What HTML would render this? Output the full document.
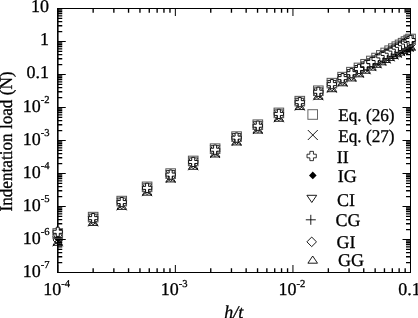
<!DOCTYPE html>
<html><head><meta charset="utf-8"><style>
html,body{margin:0;padding:0;background:#fff;overflow:hidden;}
svg{display:block;will-change:transform;}
.t{text-rendering:geometricPrecision;font-family:"Liberation Serif",serif;font-size:18px;fill:#000;stroke:#000;stroke-width:0.3px;}
</style></head><body>
<svg width="418" height="318" viewBox="0 0 418 318">
<rect x="57.75" y="8.5" width="352.75" height="264.0" fill="none" stroke="#000" stroke-width="1"/>
<line x1="57.75" y1="8.0" x2="57.75" y2="273.0" stroke="#000" stroke-width="1.4"/>
<path d="M57.75 272.50h8.0M410.5 272.50h-8.0M57.75 239.50h8.0M410.5 239.50h-8.0M57.75 206.50h8.0M410.5 206.50h-8.0M57.75 173.50h8.0M410.5 173.50h-8.0M57.75 140.50h8.0M410.5 140.50h-8.0M57.75 107.50h8.0M410.5 107.50h-8.0M57.75 74.50h8.0M410.5 74.50h-8.0M57.75 41.50h8.0M410.5 41.50h-8.0M57.75 272.5v-7.5M57.75 8.5v7.5M175.35 272.5v-7.5M175.35 8.5v7.5M292.95 272.5v-7.5M292.95 8.5v7.5" stroke="#000" stroke-width="1" fill="none"/>
<path d="M57.75 262.57h4.5M410.5 262.57h-4.5M57.75 256.75h4.5M410.5 256.75h-4.5M57.75 252.63h4.5M410.5 252.63h-4.5M57.75 249.43h4.5M410.5 249.43h-4.5M57.75 246.82h4.5M410.5 246.82h-4.5M57.75 244.61h4.5M410.5 244.61h-4.5M57.75 242.70h4.5M410.5 242.70h-4.5M57.75 241.01h4.5M410.5 241.01h-4.5M57.75 229.57h4.5M410.5 229.57h-4.5M57.75 223.75h4.5M410.5 223.75h-4.5M57.75 219.63h4.5M410.5 219.63h-4.5M57.75 216.43h4.5M410.5 216.43h-4.5M57.75 213.82h4.5M410.5 213.82h-4.5M57.75 211.61h4.5M410.5 211.61h-4.5M57.75 209.70h4.5M410.5 209.70h-4.5M57.75 208.01h4.5M410.5 208.01h-4.5M57.75 196.57h4.5M410.5 196.57h-4.5M57.75 190.75h4.5M410.5 190.75h-4.5M57.75 186.63h4.5M410.5 186.63h-4.5M57.75 183.43h4.5M410.5 183.43h-4.5M57.75 180.82h4.5M410.5 180.82h-4.5M57.75 178.61h4.5M410.5 178.61h-4.5M57.75 176.70h4.5M410.5 176.70h-4.5M57.75 175.01h4.5M410.5 175.01h-4.5M57.75 163.57h4.5M410.5 163.57h-4.5M57.75 157.75h4.5M410.5 157.75h-4.5M57.75 153.63h4.5M410.5 153.63h-4.5M57.75 150.43h4.5M410.5 150.43h-4.5M57.75 147.82h4.5M410.5 147.82h-4.5M57.75 145.61h4.5M410.5 145.61h-4.5M57.75 143.70h4.5M410.5 143.70h-4.5M57.75 142.01h4.5M410.5 142.01h-4.5M57.75 130.57h4.5M410.5 130.57h-4.5M57.75 124.75h4.5M410.5 124.75h-4.5M57.75 120.63h4.5M410.5 120.63h-4.5M57.75 117.43h4.5M410.5 117.43h-4.5M57.75 114.82h4.5M410.5 114.82h-4.5M57.75 112.61h4.5M410.5 112.61h-4.5M57.75 110.70h4.5M410.5 110.70h-4.5M57.75 109.01h4.5M410.5 109.01h-4.5M57.75 97.57h4.5M410.5 97.57h-4.5M57.75 91.75h4.5M410.5 91.75h-4.5M57.75 87.63h4.5M410.5 87.63h-4.5M57.75 84.43h4.5M410.5 84.43h-4.5M57.75 81.82h4.5M410.5 81.82h-4.5M57.75 79.61h4.5M410.5 79.61h-4.5M57.75 77.70h4.5M410.5 77.70h-4.5M57.75 76.01h4.5M410.5 76.01h-4.5M57.75 64.57h4.5M410.5 64.57h-4.5M57.75 58.75h4.5M410.5 58.75h-4.5M57.75 54.63h4.5M410.5 54.63h-4.5M57.75 51.43h4.5M410.5 51.43h-4.5M57.75 48.82h4.5M410.5 48.82h-4.5M57.75 46.61h4.5M410.5 46.61h-4.5M57.75 44.70h4.5M410.5 44.70h-4.5M57.75 43.01h4.5M410.5 43.01h-4.5M57.75 31.57h4.5M410.5 31.57h-4.5M57.75 25.75h4.5M410.5 25.75h-4.5M57.75 21.63h4.5M410.5 21.63h-4.5M57.75 18.43h4.5M410.5 18.43h-4.5M57.75 15.82h4.5M410.5 15.82h-4.5M57.75 13.61h4.5M410.5 13.61h-4.5M57.75 11.70h4.5M410.5 11.70h-4.5M57.75 10.01h4.5M410.5 10.01h-4.5M93.15 272.5v-4.2M93.15 8.5v4.2M113.86 272.5v-4.2M113.86 8.5v4.2M128.55 272.5v-4.2M128.55 8.5v4.2M139.95 272.5v-4.2M139.95 8.5v4.2M149.26 272.5v-4.2M149.26 8.5v4.2M157.13 272.5v-4.2M157.13 8.5v4.2M163.95 272.5v-4.2M163.95 8.5v4.2M169.97 272.5v-4.2M169.97 8.5v4.2M210.75 272.5v-4.2M210.75 8.5v4.2M231.46 272.5v-4.2M231.46 8.5v4.2M246.15 272.5v-4.2M246.15 8.5v4.2M257.55 272.5v-4.2M257.55 8.5v4.2M266.86 272.5v-4.2M266.86 8.5v4.2M274.73 272.5v-4.2M274.73 8.5v4.2M281.55 272.5v-4.2M281.55 8.5v4.2M287.57 272.5v-4.2M287.57 8.5v4.2M328.35 272.5v-4.2M328.35 8.5v4.2M349.06 272.5v-4.2M349.06 8.5v4.2M363.75 272.5v-4.2M363.75 8.5v4.2M375.15 272.5v-4.2M375.15 8.5v4.2M384.46 272.5v-4.2M384.46 8.5v4.2M392.33 272.5v-4.2M392.33 8.5v4.2M399.15 272.5v-4.2M399.15 8.5v4.2M405.17 272.5v-4.2M405.17 8.5v4.2" stroke="#000" stroke-width="1.35" fill="none"/>
<text x="49" y="11.90" text-anchor="end" class="t">10</text>
<text x="49" y="44.90" text-anchor="end" class="t">1</text>
<text x="49" y="77.90" text-anchor="end" class="t">0.1</text>
<text x="49.6" y="111.80" text-anchor="end" class="t">10<tspan dy="-8.7" font-size="10.6">-2</tspan></text>
<text x="49.6" y="144.80" text-anchor="end" class="t">10<tspan dy="-8.7" font-size="10.6">-3</tspan></text>
<text x="49.6" y="177.80" text-anchor="end" class="t">10<tspan dy="-8.7" font-size="10.6">-4</tspan></text>
<text x="49.6" y="210.80" text-anchor="end" class="t">10<tspan dy="-8.7" font-size="10.6">-5</tspan></text>
<text x="49.6" y="243.80" text-anchor="end" class="t">10<tspan dy="-8.7" font-size="10.6">-6</tspan></text>
<text x="49.6" y="276.80" text-anchor="end" class="t">10<tspan dy="-8.7" font-size="10.6">-7</tspan></text>
<text x="56.65" y="295.2" text-anchor="middle" class="t">10<tspan dy="-8.2" font-size="10.6">-4</tspan></text>
<text x="174.25" y="295.2" text-anchor="middle" class="t">10<tspan dy="-8.2" font-size="10.6">-3</tspan></text>
<text x="291.85" y="295.2" text-anchor="middle" class="t">10<tspan dy="-8.2" font-size="10.6">-2</tspan></text>
<text x="409.45" y="294.9" text-anchor="middle" class="t">0.1</text>
<text transform="translate(12.2,211.5) rotate(-90)" class="t" textLength="140" lengthAdjust="spacingAndGlyphs">Indentation load (N)</text>
<text x="224.2" y="318" class="t" font-style="italic">h/t</text>
<g><path d="M52.75 236.30L62.75 246.30M62.75 236.30L52.75 246.30" stroke="#000" stroke-width="0.9" fill="none"/><path d="M57.75 234.70L61.55 238.50L57.75 242.30L53.95 238.50Z" fill="#000"/><path d="M52.95 234.00H62.55L57.75 241.20Z" fill="none" stroke="#000" stroke-width="0.9"/><path d="M52.75 238.00H62.75M57.75 233.00V243.00" stroke="#000" stroke-width="0.9" fill="none"/><path d="M57.75 235.20L62.55 240.00L57.75 244.80L52.95 240.00Z" fill="none" stroke="#000" stroke-width="0.9"/><path d="M52.95 245.30H62.55L57.75 238.10Z" fill="none" stroke="#000" stroke-width="0.9"/><path d="M88.15 216.43L98.15 226.43M98.15 216.43L88.15 226.43" stroke="#000" stroke-width="0.9" fill="none"/><path d="M93.15 214.83L96.95 218.63L93.15 222.43L89.35 218.63Z" fill="#000"/><path d="M88.35 214.13H97.95L93.15 221.33Z" fill="none" stroke="#000" stroke-width="0.9"/><path d="M88.15 218.13H98.15M93.15 213.13V223.13" stroke="#000" stroke-width="0.9" fill="none"/><path d="M93.15 215.33L97.95 220.13L93.15 224.93L88.35 220.13Z" fill="none" stroke="#000" stroke-width="0.9"/><path d="M88.35 225.43H97.95L93.15 218.23Z" fill="none" stroke="#000" stroke-width="0.9"/><path d="M116.73 200.39L126.73 210.39M126.73 200.39L116.73 210.39" stroke="#000" stroke-width="0.9" fill="none"/><path d="M121.73 198.79L125.53 202.59L121.73 206.39L117.93 202.59Z" fill="#000"/><path d="M116.93 198.09H126.53L121.73 205.29Z" fill="none" stroke="#000" stroke-width="0.9"/><path d="M116.73 202.09H126.73M121.73 197.09V207.09" stroke="#000" stroke-width="0.9" fill="none"/><path d="M121.73 199.29L126.53 204.09L121.73 208.89L116.93 204.09Z" fill="none" stroke="#000" stroke-width="0.9"/><path d="M116.93 209.39H126.53L121.73 202.19Z" fill="none" stroke="#000" stroke-width="0.9"/><path d="M142.09 186.16L152.09 196.16M152.09 186.16L142.09 196.16" stroke="#000" stroke-width="0.9" fill="none"/><path d="M147.09 184.56L150.89 188.36L147.09 192.16L143.29 188.36Z" fill="#000"/><path d="M142.29 183.86H151.89L147.09 191.06Z" fill="none" stroke="#000" stroke-width="0.9"/><path d="M142.09 187.86H152.09M147.09 182.86V192.86" stroke="#000" stroke-width="0.9" fill="none"/><path d="M147.09 185.06L151.89 189.86L147.09 194.66L142.29 189.86Z" fill="none" stroke="#000" stroke-width="0.9"/><path d="M142.29 195.16H151.89L147.09 187.96Z" fill="none" stroke="#000" stroke-width="0.9"/><path d="M165.67 172.93L175.67 182.93M175.67 172.93L165.67 182.93" stroke="#000" stroke-width="0.9" fill="none"/><path d="M170.67 171.33L174.47 175.13L170.67 178.93L166.87 175.13Z" fill="#000"/><path d="M165.87 170.63H175.47L170.67 177.83Z" fill="none" stroke="#000" stroke-width="0.9"/><path d="M165.67 174.63H175.67M170.67 169.63V179.63" stroke="#000" stroke-width="0.9" fill="none"/><path d="M170.67 171.83L175.47 176.63L170.67 181.43L165.87 176.63Z" fill="none" stroke="#000" stroke-width="0.9"/><path d="M165.87 181.93H175.47L170.67 174.73Z" fill="none" stroke="#000" stroke-width="0.9"/><path d="M188.21 160.28L198.21 170.28M198.21 160.28L188.21 170.28" stroke="#000" stroke-width="0.9" fill="none"/><path d="M193.21 158.68L197.01 162.48L193.21 166.28L189.41 162.48Z" fill="#000"/><path d="M188.41 157.98H198.01L193.21 165.18Z" fill="none" stroke="#000" stroke-width="0.9"/><path d="M188.21 161.98H198.21M193.21 156.98V166.98" stroke="#000" stroke-width="0.9" fill="none"/><path d="M193.21 159.18L198.01 163.98L193.21 168.78L188.41 163.98Z" fill="none" stroke="#000" stroke-width="0.9"/><path d="M188.41 169.28H198.01L193.21 162.08Z" fill="none" stroke="#000" stroke-width="0.9"/><path d="M210.11 147.99L220.11 157.99M220.11 147.99L210.11 157.99" stroke="#000" stroke-width="0.9" fill="none"/><path d="M215.11 146.39L218.91 150.19L215.11 153.99L211.31 150.19Z" fill="#000"/><path d="M210.31 145.69H219.91L215.11 152.89Z" fill="none" stroke="#000" stroke-width="0.9"/><path d="M210.11 149.69H220.11M215.11 144.69V154.69" stroke="#000" stroke-width="0.9" fill="none"/><path d="M215.11 146.89L219.91 151.69L215.11 156.49L210.31 151.69Z" fill="none" stroke="#000" stroke-width="0.9"/><path d="M210.31 156.99H219.91L215.11 149.79Z" fill="none" stroke="#000" stroke-width="0.9"/><path d="M231.59 135.94L241.59 145.94M241.59 135.94L231.59 145.94" stroke="#000" stroke-width="0.9" fill="none"/><path d="M236.59 134.34L240.39 138.14L236.59 141.94L232.79 138.14Z" fill="#000"/><path d="M231.79 133.64H241.39L236.59 140.84Z" fill="none" stroke="#000" stroke-width="0.9"/><path d="M231.59 137.63H241.59M236.59 132.63V142.63" stroke="#000" stroke-width="0.9" fill="none"/><path d="M236.59 134.84L241.39 139.64L236.59 144.44L231.79 139.64Z" fill="none" stroke="#000" stroke-width="0.9"/><path d="M231.79 144.94H241.39L236.59 137.74Z" fill="none" stroke="#000" stroke-width="0.9"/><path d="M252.81 124.05L262.81 134.05M262.81 124.05L252.81 134.05" stroke="#000" stroke-width="0.9" fill="none"/><path d="M257.81 122.44L261.61 126.24L257.81 130.04L254.01 126.24Z" fill="#000"/><path d="M253.01 121.75H262.61L257.81 128.95Z" fill="none" stroke="#000" stroke-width="0.9"/><path d="M252.81 125.73H262.81M257.81 120.73V130.73" stroke="#000" stroke-width="0.9" fill="none"/><path d="M257.81 122.95L262.61 127.75L257.81 132.55L253.01 127.75Z" fill="none" stroke="#000" stroke-width="0.9"/><path d="M253.01 133.05H262.61L257.81 125.85Z" fill="none" stroke="#000" stroke-width="0.9"/><path d="M273.86 112.26L283.86 122.26M283.86 112.26L273.86 122.26" stroke="#000" stroke-width="0.9" fill="none"/><path d="M278.86 110.64L282.66 114.44L278.86 118.24L275.06 114.44Z" fill="#000"/><path d="M274.06 109.96H283.66L278.86 117.16Z" fill="none" stroke="#000" stroke-width="0.9"/><path d="M273.86 113.93H283.86M278.86 108.93V118.93" stroke="#000" stroke-width="0.9" fill="none"/><path d="M278.86 111.16L283.66 115.96L278.86 120.76L274.06 115.96Z" fill="none" stroke="#000" stroke-width="0.9"/><path d="M274.06 121.26H283.66L278.86 114.06Z" fill="none" stroke="#000" stroke-width="0.9"/><path d="M294.79 100.56L304.79 110.56M304.79 100.56L294.79 110.56" stroke="#000" stroke-width="0.9" fill="none"/><path d="M299.79 98.91L303.59 102.71L299.79 106.51L295.99 102.71Z" fill="#000"/><path d="M294.99 98.26H304.59L299.79 105.46Z" fill="none" stroke="#000" stroke-width="0.9"/><path d="M294.79 102.19H304.79M299.79 97.19V107.19" stroke="#000" stroke-width="0.9" fill="none"/><path d="M299.79 99.46L304.59 104.26L299.79 109.06L294.99 104.26Z" fill="none" stroke="#000" stroke-width="0.9"/><path d="M294.99 109.56H304.59L299.79 102.36Z" fill="none" stroke="#000" stroke-width="0.9"/><path d="M313.32 90.24L323.32 100.24M323.32 90.24L313.32 100.24" stroke="#000" stroke-width="0.9" fill="none"/><path d="M318.32 88.55L322.12 92.35L318.32 96.15L314.52 92.35Z" fill="#000"/><path d="M313.52 87.94H323.12L318.32 95.14Z" fill="none" stroke="#000" stroke-width="0.9"/><path d="M313.32 91.81H323.32M318.32 86.81V96.81" stroke="#000" stroke-width="0.9" fill="none"/><path d="M318.32 89.14L323.12 93.94L318.32 98.74L313.52 93.94Z" fill="none" stroke="#000" stroke-width="0.9"/><path d="M313.52 99.24H323.12L318.32 92.04Z" fill="none" stroke="#000" stroke-width="0.9"/><path d="M326.89 82.71L336.89 92.71M336.89 82.71L326.89 92.71" stroke="#000" stroke-width="0.9" fill="none"/><path d="M331.89 80.98L335.69 84.78L331.89 88.58L328.09 84.78Z" fill="#000"/><path d="M327.09 80.41H336.69L331.89 87.61Z" fill="none" stroke="#000" stroke-width="0.9"/><path d="M326.89 84.23H336.89M331.89 79.23V89.23" stroke="#000" stroke-width="0.9" fill="none"/><path d="M331.89 81.61L336.69 86.41L331.89 91.21L327.09 86.41Z" fill="none" stroke="#000" stroke-width="0.9"/><path d="M327.09 91.71H336.69L331.89 84.51Z" fill="none" stroke="#000" stroke-width="0.9"/><path d="M337.59 76.79L347.59 86.79M347.59 76.79L337.59 86.79" stroke="#000" stroke-width="0.9" fill="none"/><path d="M342.59 75.01L346.39 78.81L342.59 82.61L338.79 78.81Z" fill="#000"/><path d="M337.79 74.49H347.39L342.59 81.69Z" fill="none" stroke="#000" stroke-width="0.9"/><path d="M337.59 78.24H347.59M342.59 73.24V83.24" stroke="#000" stroke-width="0.9" fill="none"/><path d="M342.59 75.69L347.39 80.49L342.59 85.29L337.79 80.49Z" fill="none" stroke="#000" stroke-width="0.9"/><path d="M337.79 85.79H347.39L342.59 78.59Z" fill="none" stroke="#000" stroke-width="0.9"/><path d="M346.44 71.93L356.44 81.93M356.44 71.93L346.44 81.93" stroke="#000" stroke-width="0.9" fill="none"/><path d="M351.44 70.10L355.24 73.90L351.44 77.70L347.64 73.90Z" fill="#000"/><path d="M346.64 69.63H356.24L351.44 76.83Z" fill="none" stroke="#000" stroke-width="0.9"/><path d="M346.44 73.31H356.44M351.44 68.31V78.31" stroke="#000" stroke-width="0.9" fill="none"/><path d="M351.44 70.83L356.24 75.63L351.44 80.43L346.64 75.63Z" fill="none" stroke="#000" stroke-width="0.9"/><path d="M346.64 80.93H356.24L351.44 73.73Z" fill="none" stroke="#000" stroke-width="0.9"/><path d="M353.98 67.81L363.98 77.81M363.98 67.81L353.98 77.81" stroke="#000" stroke-width="0.9" fill="none"/><path d="M358.98 65.93L362.78 69.73L358.98 73.53L355.18 69.73Z" fill="#000"/><path d="M354.18 65.51H363.78L358.98 72.71Z" fill="none" stroke="#000" stroke-width="0.9"/><path d="M353.98 69.11H363.98M358.98 64.11V74.11" stroke="#000" stroke-width="0.9" fill="none"/><path d="M358.98 66.71L363.78 71.51L358.98 76.31L354.18 71.51Z" fill="none" stroke="#000" stroke-width="0.9"/><path d="M354.18 76.81H363.78L358.98 69.61Z" fill="none" stroke="#000" stroke-width="0.9"/><path d="M360.55 64.25L370.55 74.25M370.55 64.25L360.55 74.25" stroke="#000" stroke-width="0.9" fill="none"/><path d="M365.55 62.30L369.35 66.10L365.55 69.90L361.75 66.10Z" fill="#000"/><path d="M360.75 61.95H370.35L365.55 69.15Z" fill="none" stroke="#000" stroke-width="0.9"/><path d="M360.55 65.46H370.55M365.55 60.46V70.46" stroke="#000" stroke-width="0.9" fill="none"/><path d="M365.55 63.15L370.35 67.95L365.55 72.75L360.75 67.95Z" fill="none" stroke="#000" stroke-width="0.9"/><path d="M360.75 73.25H370.35L365.55 66.05Z" fill="none" stroke="#000" stroke-width="0.9"/><path d="M366.37 61.11L376.37 71.11M376.37 61.11L366.37 71.11" stroke="#000" stroke-width="0.9" fill="none"/><path d="M371.37 59.10L375.17 62.90L371.37 66.70L367.57 62.90Z" fill="#000"/><path d="M366.57 58.81H376.17L371.37 66.01Z" fill="none" stroke="#000" stroke-width="0.9"/><path d="M366.37 62.24H376.37M371.37 57.24V67.24" stroke="#000" stroke-width="0.9" fill="none"/><path d="M371.37 60.01L376.17 64.81L371.37 69.61L366.57 64.81Z" fill="none" stroke="#000" stroke-width="0.9"/><path d="M366.57 70.11H376.17L371.37 62.91Z" fill="none" stroke="#000" stroke-width="0.9"/><path d="M371.59 58.32L381.59 68.32M381.59 58.32L371.59 68.32" stroke="#000" stroke-width="0.9" fill="none"/><path d="M376.59 56.24L380.39 60.04L376.59 63.84L372.79 60.04Z" fill="#000"/><path d="M371.79 56.02H381.39L376.59 63.22Z" fill="none" stroke="#000" stroke-width="0.9"/><path d="M371.59 59.35H381.59M376.59 54.35V64.35" stroke="#000" stroke-width="0.9" fill="none"/><path d="M376.59 57.22L381.39 62.02L376.59 66.82L371.79 62.02Z" fill="none" stroke="#000" stroke-width="0.9"/><path d="M371.79 67.32H381.39L376.59 60.12Z" fill="none" stroke="#000" stroke-width="0.9"/><path d="M376.33 55.80L386.33 65.80M386.33 55.80L376.33 65.80" stroke="#000" stroke-width="0.9" fill="none"/><path d="M381.33 53.65L385.13 57.45L381.33 61.25L377.53 57.45Z" fill="#000"/><path d="M376.53 53.50H386.13L381.33 60.70Z" fill="none" stroke="#000" stroke-width="0.9"/><path d="M376.33 56.73H386.33M381.33 51.73V61.73" stroke="#000" stroke-width="0.9" fill="none"/><path d="M381.33 54.70L386.13 59.50L381.33 64.30L376.53 59.50Z" fill="none" stroke="#000" stroke-width="0.9"/><path d="M376.53 64.80H386.13L381.33 57.60Z" fill="none" stroke="#000" stroke-width="0.9"/><path d="M380.67 53.52L390.67 63.52M390.67 53.52L380.67 63.52" stroke="#000" stroke-width="0.9" fill="none"/><path d="M385.67 51.29L389.47 55.09L385.67 58.89L381.87 55.09Z" fill="#000"/><path d="M380.87 51.22H390.47L385.67 58.42Z" fill="none" stroke="#000" stroke-width="0.9"/><path d="M380.67 54.34H390.67M385.67 49.34V59.34" stroke="#000" stroke-width="0.9" fill="none"/><path d="M385.67 52.42L390.47 57.22L385.67 62.02L380.87 57.22Z" fill="none" stroke="#000" stroke-width="0.9"/><path d="M380.87 62.52H390.47L385.67 55.32Z" fill="none" stroke="#000" stroke-width="0.9"/><path d="M384.66 51.43L394.66 61.43M394.66 51.43L384.66 61.43" stroke="#000" stroke-width="0.9" fill="none"/><path d="M389.66 49.13L393.46 52.93L389.66 56.73L385.86 52.93Z" fill="#000"/><path d="M384.86 49.13H394.46L389.66 56.33Z" fill="none" stroke="#000" stroke-width="0.9"/><path d="M384.66 52.15H394.66M389.66 47.15V57.15" stroke="#000" stroke-width="0.9" fill="none"/><path d="M389.66 50.33L394.46 55.13L389.66 59.93L384.86 55.13Z" fill="none" stroke="#000" stroke-width="0.9"/><path d="M384.86 60.43H394.46L389.66 53.23Z" fill="none" stroke="#000" stroke-width="0.9"/><path d="M388.37 49.51L398.37 59.51M398.37 49.51L388.37 59.51" stroke="#000" stroke-width="0.9" fill="none"/><path d="M393.37 47.13L397.17 50.93L393.37 54.73L389.57 50.93Z" fill="#000"/><path d="M388.57 47.21H398.17L393.37 54.41Z" fill="none" stroke="#000" stroke-width="0.9"/><path d="M388.37 50.11H398.37M393.37 45.11V55.11" stroke="#000" stroke-width="0.9" fill="none"/><path d="M393.37 48.41L398.17 53.21L393.37 58.01L388.57 53.21Z" fill="none" stroke="#000" stroke-width="0.9"/><path d="M388.57 58.51H398.17L393.37 51.31Z" fill="none" stroke="#000" stroke-width="0.9"/><path d="M391.82 47.74L401.82 57.74M401.82 47.74L391.82 57.74" stroke="#000" stroke-width="0.9" fill="none"/><path d="M396.82 45.27L400.62 49.07L396.82 52.87L393.02 49.07Z" fill="#000"/><path d="M392.02 45.44H401.62L396.82 52.64Z" fill="none" stroke="#000" stroke-width="0.9"/><path d="M391.82 48.22H401.82M396.82 43.22V53.22" stroke="#000" stroke-width="0.9" fill="none"/><path d="M396.82 46.64L401.62 51.44L396.82 56.24L392.02 51.44Z" fill="none" stroke="#000" stroke-width="0.9"/><path d="M392.02 56.74H401.62L396.82 49.54Z" fill="none" stroke="#000" stroke-width="0.9"/><path d="M395.06 46.10L405.06 56.10M405.06 46.10L395.06 56.10" stroke="#000" stroke-width="0.9" fill="none"/><path d="M400.06 43.54L403.86 47.34L400.06 51.14L396.26 47.34Z" fill="#000"/><path d="M395.26 43.80H404.86L400.06 51.00Z" fill="none" stroke="#000" stroke-width="0.9"/><path d="M395.06 46.46H405.06M400.06 41.46V51.46" stroke="#000" stroke-width="0.9" fill="none"/><path d="M400.06 45.00L404.86 49.80L400.06 54.60L395.26 49.80Z" fill="none" stroke="#000" stroke-width="0.9"/><path d="M395.26 55.10H404.86L400.06 47.90Z" fill="none" stroke="#000" stroke-width="0.9"/><path d="M398.10 44.57L408.10 54.57M408.10 44.57L398.10 54.57" stroke="#000" stroke-width="0.9" fill="none"/><path d="M403.10 41.92L406.90 45.72L403.10 49.52L399.30 45.72Z" fill="#000"/><path d="M398.30 42.27H407.90L403.10 49.47Z" fill="none" stroke="#000" stroke-width="0.9"/><path d="M398.10 44.81H408.10M403.10 39.81V49.81" stroke="#000" stroke-width="0.9" fill="none"/><path d="M403.10 43.47L407.90 48.27L403.10 53.07L398.30 48.27Z" fill="none" stroke="#000" stroke-width="0.9"/><path d="M398.30 53.57H407.90L403.10 46.37Z" fill="none" stroke="#000" stroke-width="0.9"/><path d="M400.98 43.14L410.98 53.14M410.98 43.14L400.98 53.14" stroke="#000" stroke-width="0.9" fill="none"/><path d="M405.98 40.40L409.78 44.20L405.98 48.00L402.18 44.20Z" fill="#000"/><path d="M401.18 40.84H410.78L405.98 48.04Z" fill="none" stroke="#000" stroke-width="0.9"/><path d="M400.98 43.25H410.98M405.98 38.25V48.25" stroke="#000" stroke-width="0.9" fill="none"/><path d="M405.98 42.04L410.78 46.84L405.98 51.64L401.18 46.84Z" fill="none" stroke="#000" stroke-width="0.9"/><path d="M401.18 52.14H410.78L405.98 44.94Z" fill="none" stroke="#000" stroke-width="0.9"/><path d="M403.69 41.80L413.69 51.80M413.69 41.80L403.69 51.80" stroke="#000" stroke-width="0.9" fill="none"/><path d="M408.69 38.97L412.49 42.77L408.69 46.57L404.89 42.77Z" fill="#000"/><path d="M403.89 39.50H413.49L408.69 46.70Z" fill="none" stroke="#000" stroke-width="0.9"/><path d="M403.69 41.78H413.69M408.69 36.78V46.78" stroke="#000" stroke-width="0.9" fill="none"/><path d="M408.69 40.70L413.49 45.50L408.69 50.30L403.89 45.50Z" fill="none" stroke="#000" stroke-width="0.9"/><path d="M403.89 50.80H413.49L408.69 43.60Z" fill="none" stroke="#000" stroke-width="0.9"/><path d="M405.55 40.90L415.55 50.90M415.55 40.90L405.55 50.90" stroke="#000" stroke-width="0.9" fill="none"/><path d="M410.55 38.00L414.35 41.80L410.55 45.60L406.75 41.80Z" fill="#000"/><path d="M405.75 38.60H415.35L410.55 45.80Z" fill="none" stroke="#000" stroke-width="0.9"/><path d="M405.55 40.78H415.55M410.55 35.78V45.78" stroke="#000" stroke-width="0.9" fill="none"/><path d="M410.55 39.80L415.35 44.60L410.55 49.40L405.75 44.60Z" fill="none" stroke="#000" stroke-width="0.9"/><path d="M405.75 49.90H415.35L410.55 42.70Z" fill="none" stroke="#000" stroke-width="0.9"/></g>
<g><rect x="52.95" y="228.70" width="9.6" height="9.6" fill="none" stroke="#555" stroke-width="1"/><rect x="88.35" y="212.33" width="9.6" height="9.6" fill="none" stroke="#555" stroke-width="1"/><rect x="116.93" y="196.29" width="9.6" height="9.6" fill="none" stroke="#555" stroke-width="1"/><rect x="142.29" y="182.06" width="9.6" height="9.6" fill="none" stroke="#555" stroke-width="1"/><rect x="165.87" y="168.82" width="9.6" height="9.6" fill="none" stroke="#555" stroke-width="1"/><rect x="188.41" y="156.17" width="9.6" height="9.6" fill="none" stroke="#555" stroke-width="1"/><rect x="210.31" y="143.89" width="9.6" height="9.6" fill="none" stroke="#555" stroke-width="1"/><rect x="231.79" y="131.83" width="9.6" height="9.6" fill="none" stroke="#555" stroke-width="1"/><rect x="253.01" y="119.92" width="9.6" height="9.6" fill="none" stroke="#555" stroke-width="1"/><rect x="274.06" y="108.11" width="9.6" height="9.6" fill="none" stroke="#555" stroke-width="1"/><rect x="294.99" y="96.36" width="9.6" height="9.6" fill="none" stroke="#555" stroke-width="1"/><rect x="313.52" y="85.96" width="9.6" height="9.6" fill="none" stroke="#555" stroke-width="1"/><rect x="327.09" y="78.35" width="9.6" height="9.6" fill="none" stroke="#555" stroke-width="1"/><rect x="337.79" y="72.34" width="9.6" height="9.6" fill="none" stroke="#555" stroke-width="1"/><rect x="346.64" y="67.37" width="9.6" height="9.6" fill="none" stroke="#555" stroke-width="1"/><rect x="354.18" y="63.14" width="9.6" height="9.6" fill="none" stroke="#555" stroke-width="1"/><rect x="360.75" y="59.46" width="9.6" height="9.6" fill="none" stroke="#555" stroke-width="1"/><rect x="366.57" y="56.19" width="9.6" height="9.6" fill="none" stroke="#555" stroke-width="1"/><rect x="371.79" y="53.26" width="9.6" height="9.6" fill="none" stroke="#555" stroke-width="1"/><rect x="376.53" y="50.60" width="9.6" height="9.6" fill="none" stroke="#555" stroke-width="1"/><rect x="380.87" y="48.17" width="9.6" height="9.6" fill="none" stroke="#555" stroke-width="1"/><rect x="384.86" y="45.92" width="9.6" height="9.6" fill="none" stroke="#555" stroke-width="1"/><rect x="388.57" y="43.84" width="9.6" height="9.6" fill="none" stroke="#555" stroke-width="1"/><rect x="392.02" y="41.90" width="9.6" height="9.6" fill="none" stroke="#555" stroke-width="1"/><rect x="395.26" y="40.09" width="9.6" height="9.6" fill="none" stroke="#555" stroke-width="1"/><rect x="398.30" y="38.38" width="9.6" height="9.6" fill="none" stroke="#555" stroke-width="1"/><rect x="401.18" y="36.77" width="9.6" height="9.6" fill="none" stroke="#555" stroke-width="1"/><rect x="403.89" y="35.24" width="9.6" height="9.6" fill="none" stroke="#555" stroke-width="1"/><rect x="405.75" y="34.20" width="9.6" height="9.6" fill="none" stroke="#555" stroke-width="1"/><path d="M56.25 227.20H59.25V230.30H62.35V233.30H59.25V236.40H56.25V233.30H53.15V230.30H56.25Z" fill="#fff" stroke="#000" stroke-width="0.9"/><path d="M91.65 213.53H94.65V216.63H97.75V219.63H94.65V222.73H91.65V219.63H88.55V216.63H91.65Z" fill="#fff" stroke="#000" stroke-width="0.9"/><path d="M120.23 197.49H123.23V200.59H126.33V203.59H123.23V206.69H120.23V203.59H117.13V200.59H120.23Z" fill="#fff" stroke="#000" stroke-width="0.9"/><path d="M145.59 183.26H148.59V186.36H151.69V189.36H148.59V192.46H145.59V189.36H142.49V186.36H145.59Z" fill="#fff" stroke="#000" stroke-width="0.9"/><path d="M169.17 170.02H172.17V173.12H175.27V176.12H172.17V179.22H169.17V176.12H166.07V173.12H169.17Z" fill="#fff" stroke="#000" stroke-width="0.9"/><path d="M191.71 157.37H194.71V160.47H197.81V163.47H194.71V166.57H191.71V163.47H188.61V160.47H191.71Z" fill="#fff" stroke="#000" stroke-width="0.9"/><path d="M213.61 145.09H216.61V148.19H219.71V151.19H216.61V154.29H213.61V151.19H210.51V148.19H213.61Z" fill="#fff" stroke="#000" stroke-width="0.9"/><path d="M235.09 133.03H238.09V136.13H241.19V139.13H238.09V142.23H235.09V139.13H231.99V136.13H235.09Z" fill="#fff" stroke="#000" stroke-width="0.9"/><path d="M256.31 121.12H259.31V124.22H262.41V127.22H259.31V130.32H256.31V127.22H253.21V124.22H256.31Z" fill="#fff" stroke="#000" stroke-width="0.9"/><path d="M277.36 109.31H280.36V112.41H283.46V115.41H280.36V118.51H277.36V115.41H274.26V112.41H277.36Z" fill="#fff" stroke="#000" stroke-width="0.9"/><path d="M298.29 97.56H301.29V100.66H304.39V103.66H301.29V106.76H298.29V103.66H295.19V100.66H298.29Z" fill="#fff" stroke="#000" stroke-width="0.9"/><path d="M316.82 87.16H319.82V90.26H322.92V93.26H319.82V96.36H316.82V93.26H313.72V90.26H316.82Z" fill="#fff" stroke="#000" stroke-width="0.9"/><path d="M330.39 79.55H333.39V82.65H336.49V85.65H333.39V88.75H330.39V85.65H327.29V82.65H330.39Z" fill="#fff" stroke="#000" stroke-width="0.9"/><path d="M341.09 73.54H344.09V76.64H347.19V79.64H344.09V82.74H341.09V79.64H337.99V76.64H341.09Z" fill="#fff" stroke="#000" stroke-width="0.9"/><path d="M349.94 68.57H352.94V71.67H356.04V74.67H352.94V77.77H349.94V74.67H346.84V71.67H349.94Z" fill="#fff" stroke="#000" stroke-width="0.9"/><path d="M357.48 64.34H360.48V67.44H363.58V70.44H360.48V73.54H357.48V70.44H354.38V67.44H357.48Z" fill="#fff" stroke="#000" stroke-width="0.9"/><path d="M364.05 60.66H367.05V63.76H370.15V66.76H367.05V69.86H364.05V66.76H360.95V63.76H364.05Z" fill="#fff" stroke="#000" stroke-width="0.9"/><path d="M369.87 57.39H372.87V60.49H375.97V63.49H372.87V66.59H369.87V63.49H366.77V60.49H369.87Z" fill="#fff" stroke="#000" stroke-width="0.9"/><path d="M375.09 54.46H378.09V57.56H381.19V60.56H378.09V63.66H375.09V60.56H371.99V57.56H375.09Z" fill="#fff" stroke="#000" stroke-width="0.9"/><path d="M379.83 51.80H382.83V54.90H385.93V57.90H382.83V61.00H379.83V57.90H376.73V54.90H379.83Z" fill="#fff" stroke="#000" stroke-width="0.9"/><path d="M384.17 49.37H387.17V52.47H390.27V55.47H387.17V58.57H384.17V55.47H381.07V52.47H384.17Z" fill="#fff" stroke="#000" stroke-width="0.9"/><path d="M388.16 47.12H391.16V50.22H394.26V53.22H391.16V56.32H388.16V53.22H385.06V50.22H388.16Z" fill="#fff" stroke="#000" stroke-width="0.9"/><path d="M391.87 45.04H394.87V48.14H397.97V51.14H394.87V54.24H391.87V51.14H388.77V48.14H391.87Z" fill="#fff" stroke="#000" stroke-width="0.9"/><path d="M395.32 43.10H398.32V46.20H401.42V49.20H398.32V52.30H395.32V49.20H392.22V46.20H395.32Z" fill="#fff" stroke="#000" stroke-width="0.9"/><path d="M398.56 41.29H401.56V44.39H404.66V47.39H401.56V50.49H398.56V47.39H395.46V44.39H398.56Z" fill="#fff" stroke="#000" stroke-width="0.9"/><path d="M401.60 39.58H404.60V42.68H407.70V45.68H404.60V48.78H401.60V45.68H398.50V42.68H401.60Z" fill="#fff" stroke="#000" stroke-width="0.9"/><path d="M404.48 37.97H407.48V41.07H410.58V44.07H407.48V47.17H404.48V44.07H401.38V41.07H404.48Z" fill="#fff" stroke="#000" stroke-width="0.9"/><path d="M407.19 36.44H410.19V39.54H413.29V42.54H410.19V45.64H407.19V42.54H404.09V39.54H407.19Z" fill="#fff" stroke="#000" stroke-width="0.9"/><path d="M409.05 35.40H412.05V38.50H415.15V41.50H412.05V44.60H409.05V41.50H405.95V38.50H409.05Z" fill="#fff" stroke="#000" stroke-width="0.9"/></g>
<g><rect x="307.90" y="109.70" width="9.6" height="9.6" fill="none" stroke="#666" stroke-width="1"/><path d="M307.80 130.00L317.80 140.00M317.80 130.00L307.80 140.00" stroke="#000" stroke-width="0.9" fill="none"/><path d="M309.85 151.35H313.45V154.20H316.30V157.80H313.45V160.65H309.85V157.80H307.00V154.20H309.85Z" fill="#fff" stroke="#000" stroke-width="0.8"/><path d="M312.80 171.60L316.60 175.40L312.80 179.20L309.00 175.40Z" fill="#000"/><path d="M306.90 195.30H316.70L311.80 202.50Z" fill="none" stroke="#000" stroke-width="0.9"/><path d="M305.80 219.80H315.80M310.80 214.80V224.80" stroke="#000" stroke-width="0.9" fill="none"/><path d="M311.70 237.05L316.50 241.85L311.70 246.65L306.90 241.85Z" fill="none" stroke="#000" stroke-width="0.9"/><path d="M307.90 263.20H317.50L312.70 256.00Z" fill="none" stroke="#000" stroke-width="0.9"/></g>
<text x="338.2" y="121.1" class="t" textLength="56.4" lengthAdjust="spacingAndGlyphs">Eq. (26)</text>
<text x="338.2" y="141.9" class="t" textLength="56.4" lengthAdjust="spacingAndGlyphs">Eq. (27)</text>
<text x="336.7" y="162.8" class="t">II</text>
<text x="337.8" y="182.3" class="t">IG</text>
<text x="336.9" y="205.6" class="t">CI</text>
<text x="335.6" y="225.7" class="t">CG</text>
<text x="336.5" y="248.3" class="t">GI</text>
<text x="337.9" y="266.0" class="t">GG</text>
</svg>
</body></html>
